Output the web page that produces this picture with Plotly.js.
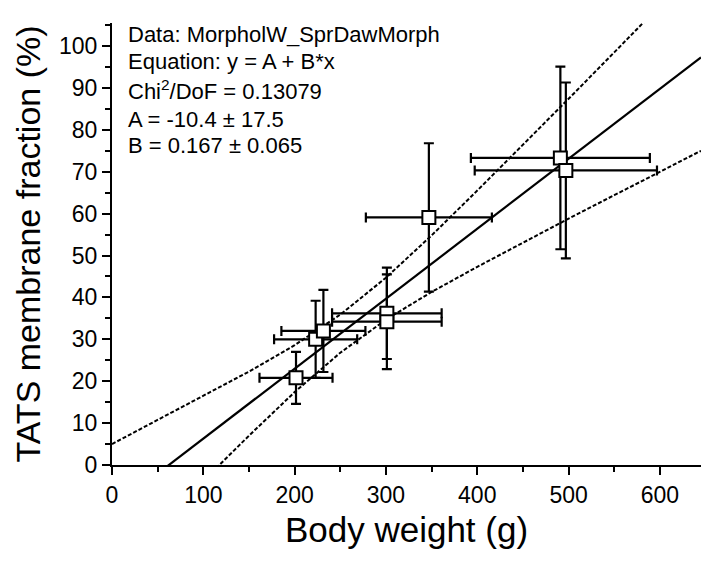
<!DOCTYPE html>
<html>
<head>
<meta charset="utf-8">
<script src="https://cdn.plot.ly/plotly-3.0.1.min.js"></script>
<style>html,body{margin:0;padding:0;background:#fff;}#chart{width:701px;height:561px;}</style>
</head>
<body>
<div id="chart"></div>
<script>
// Measured data points (body weight in g, TATS membrane fraction in %)
var bodyWeight   = [201.5, 223, 231.5, 301, 301, 347, 491, 497];
var tatsFraction = [20.8, 30.0, 32.0, 36.2, 34.2, 59.1, 73.3, 70.3];
var bodyWeightErr   = [40, 45.5, 46, 60, 60, 69, 98, 99.8];
var tatsFractionErr = [6.2, 9.2, 9.8, 10.9, 11.3, 17.7, 21.8, 21.0];

// Linear fit y = A + B*x (end points)
var fitX = [0, 645];
var fitY = [-10.4, 97.3];

// 95% confidence bands
var upperBandX = [0, 50, 100, 150, 200, 250, 300, 350, 400, 450, 500, 550, 590];
var upperBandY = [5.0, 10.7, 16.4, 22.3, 28.6, 35.9, 44.7, 54.8, 65.5, 76.4, 87.4, 98.5, 107.4];
var lowerBandX = [100, 120, 150, 200, 250, 300, 350, 400, 450, 500, 550, 600, 645];
var lowerBandY = [-3.8, 0.5, 7.0, 17.4, 26.8, 34.7, 41.3, 47.3, 53.1, 58.8, 64.4, 70.0, 75.0];

var xTicks = [0, 100, 200, 300, 400, 500, 600];
var yTicks = [0, 10, 20, 30, 40, 50, 60, 70, 80, 90, 100];

var statLines = [
  'Data: MorpholW_SprDawMorph',
  'Equation: y = A + B*x',
  'Chi<sup>2</sup>/DoF = 0.13079',
  'A = -10.4 \u00b1 17.5',
  'B = 0.167 \u00b1 0.065'
];

var FONT = 'Arial, "Liberation Sans", Helvetica, sans-serif';
var W = 701, H = 561, L = 112, R = 0, T = 23, B = 96;
function px2paperY(py){ return (H - B - py) / (H - T - B); }
function px2paperX(px){ return (px - L) / (W - L - R); }

var traces = [
  {x: upperBandX, y: upperBandY, mode: 'lines', line: {color: '#000', width: 2, dash: '4px,2px'}, hoverinfo: 'skip', showlegend: false},
  {x: lowerBandX, y: lowerBandY, mode: 'lines', line: {color: '#000', width: 2, dash: '4px,2px'}, hoverinfo: 'skip', showlegend: false},
  {x: fitX, y: fitY, mode: 'lines', line: {color: '#000', width: 2.2}, showlegend: false},
  {x: bodyWeight, y: tatsFraction, mode: 'markers', type: 'scatter', showlegend: false,
   marker: {symbol: 'square', size: 13, color: '#fff', line: {color: '#000', width: 2}},
   error_x: {type: 'data', array: bodyWeightErr, visible: true, color: '#000', thickness: 2.2, width: 5},
   error_y: {type: 'data', array: tatsFractionErr, visible: true, color: '#000', thickness: 2.2, width: 5}}
];

var centersPx = [34.5, 61.5, 89.5, 119.5, 145.5];
var annotations = statLines.map(function(t, i){
  return {text: t, xref: 'paper', yref: 'paper', x: px2paperX(126), y: px2paperY(centersPx[i]),
          xanchor: 'left', yanchor: 'middle', showarrow: false, align: 'left',
          font: {family: FONT, size: 22, color: '#000'}};
});

var layout = {
  width: W, height: H,
  margin: {l: L, r: R, t: T, b: B, pad: 0},
  paper_bgcolor: '#fff', plot_bgcolor: '#fff',
  font: {family: FONT, color: '#000'},
  showlegend: false,
  xaxis: {
    range: [0, 645], tickvals: xTicks, ticktext: xTicks.map(String),
    showgrid: false, zeroline: false, showline: true, linecolor: '#000', linewidth: 2,
    ticks: 'outside', ticklen: 8, tickwidth: 2, tickcolor: '#000',
    minor: {dtick: 50, tick0: 0, ticks: 'outside', ticklen: 5, tickwidth: 2, tickcolor: '#000'},
    tickfont: {family: FONT, size: 23, color: '#000'},
    title: {text: 'Body weight (g)', font: {family: FONT, size: 35, color: '#000'}, standoff: 11}
  },
  yaxis: {
    range: [0, 105.5], tickvals: yTicks, ticktext: yTicks.map(String),
    showgrid: false, zeroline: false, showline: true, linecolor: '#000', linewidth: 2,
    ticks: 'outside', ticklen: 8, tickwidth: 2, tickcolor: '#000',
    minor: {dtick: 5, tick0: 0, ticks: 'outside', ticklen: 5, tickwidth: 2, tickcolor: '#000'},
    tickfont: {family: FONT, size: 23, color: '#000'},
    title: {text: 'TATS membrane fraction (%)', font: {family: FONT, size: 34, color: '#000'}, standoff: 8}
  },
  annotations: annotations
};

Plotly.newPlot('chart', traces, layout, {staticPlot: true, displayModeBar: false});
</script>
</body>
</html>
